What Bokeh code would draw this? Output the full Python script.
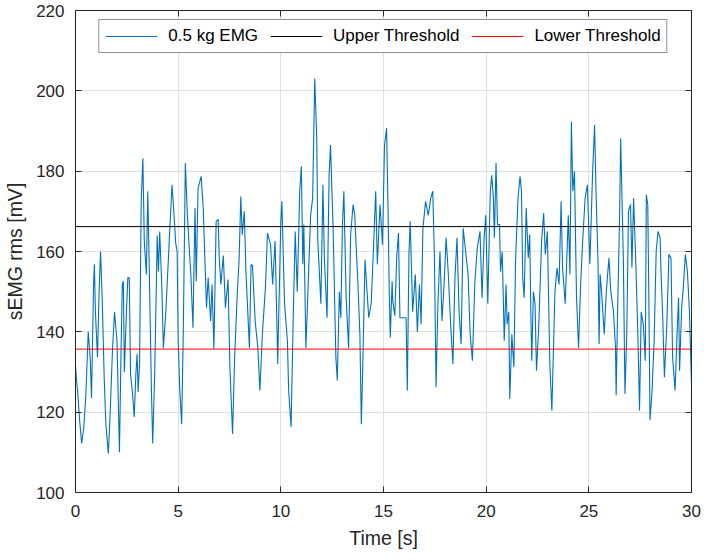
from bokeh.plotting import figure
from bokeh.models import LinearAxis, FixedTicker, Legend, LegendItem, Range1d
from bokeh.embed import file_html
from bokeh.resources import INLINE

# ---- data ----
time_s = [
    0.00, 0.05, 0.10, 0.20, 0.30, 0.40, 0.50, 0.62, 0.72, 0.78, 0.88, 0.92, 0.97, 1.07, 1.15, 1.22,
    1.30, 1.40, 1.48, 1.60, 1.68, 1.80, 1.90, 2.02, 2.14, 2.22, 2.28, 2.33, 2.38, 2.48, 2.55, 2.62,
    2.68, 2.78, 2.86, 2.94, 3.00, 3.05, 3.12, 3.20, 3.28, 3.35, 3.45, 3.52, 3.60, 3.70, 3.76, 3.86,
    3.98, 4.04, 4.10, 4.20, 4.28, 4.40, 4.55, 4.70, 4.80, 4.88, 4.95,
    5.00, 5.08, 5.17, 5.25, 5.35, 5.45, 5.55, 5.62, 5.72, 5.82, 5.88, 5.97, 6.12, 6.22, 6.38, 6.46,
    6.58, 6.65, 6.74, 6.85, 6.95, 7.00, 7.08, 7.20, 7.30, 7.43, 7.52, 7.65, 7.75, 7.87, 7.97, 8.05,
    8.12, 8.22, 8.30, 8.47, 8.55, 8.62, 8.75, 8.88, 8.98, 9.10, 9.25, 9.35, 9.50, 9.60, 9.72, 9.85,
    9.88, 10.00,
    10.05, 10.18, 10.32, 10.38, 10.50, 10.60, 10.70, 10.80, 10.92, 11.00, 11.07, 11.12, 11.22, 11.35,
    11.45, 11.55, 11.65, 11.75, 11.80, 11.85, 11.95, 12.05, 12.12, 12.25, 12.35, 12.42, 12.55, 12.68,
    12.75, 12.85, 12.92, 13.00, 13.07, 13.18, 13.30, 13.40, 13.52, 13.60, 13.68, 13.75, 13.85, 13.92,
    14.00, 14.10, 14.20, 14.28, 14.40, 14.50, 14.62, 14.70, 14.83, 14.95, 15.05, 15.15, 15.22, 15.28,
    15.33, 15.42,
    15.45, 15.55, 15.65, 15.73, 15.80, 15.90, 16.10, 16.16, 16.24, 16.30, 16.42, 16.55, 16.65, 16.75,
    16.83, 16.92, 17.05, 17.18, 17.30, 17.40, 17.48, 17.56, 17.65, 17.75, 17.85, 17.95, 18.05, 18.15,
    18.27, 18.38, 18.48, 18.58, 18.68, 18.78, 18.88, 19.00, 19.12, 19.22, 19.33, 19.45, 19.57, 19.70,
    19.80, 19.90, 19.98, 20.08,
    20.20, 20.27, 20.35, 20.40, 20.48, 20.55, 20.65, 20.70, 20.78, 20.82, 20.88, 20.97, 21.02, 21.10,
    21.15, 21.25, 21.35, 21.43, 21.55, 21.65, 21.72, 21.78, 21.85, 21.95, 22.05, 22.12, 22.18, 22.22,
    22.30, 22.38, 22.45, 22.55, 22.70, 22.80, 22.88, 22.98, 23.10, 23.20, 23.35, 23.45, 23.55, 23.65,
    23.72, 23.85, 24.00, 24.08, 24.15, 24.22, 24.30, 24.40, 24.50, 24.60, 24.70, 24.82, 24.93, 25.05,
    25.18, 25.28, 25.35, 25.45, 25.50, 25.55,
    25.62, 25.75, 25.85, 25.98, 26.07, 26.20, 26.30, 26.33, 26.40, 26.50, 26.55, 26.62, 26.68, 26.76,
    26.85, 26.93, 27.03, 27.10, 27.18, 27.27, 27.38, 27.47, 27.55, 27.65, 27.75, 27.80, 27.87, 27.92,
    27.98, 28.08, 28.18, 28.28, 28.37, 28.47, 28.52, 28.60, 28.68, 28.80, 28.90, 29.00, 29.08, 29.20,
    29.30, 29.37, 29.42, 29.52, 29.60, 29.70, 29.80, 29.90, 30.00,
]
emg_mv = [
    131.6, 128.0, 125.4, 118.0, 112.2, 116.0, 123.7, 140.0, 133.0, 123.5, 151.8, 156.8, 145.0, 133.6, 150.0, 160.0,
    148.5, 128.0, 117.0, 109.7, 118.8, 135.3, 145.0, 137.8, 110.0, 136.0, 151.8, 152.6, 130.0, 145.0, 153.5, 153.4,
    129.5, 124.5, 118.8, 129.5, 134.5, 125.0, 132.0, 172.5, 183.2, 162.6, 154.3, 175.0, 153.5, 125.0, 112.2, 130.0,
    164.0, 155.0, 165.0, 151.8, 136.0, 145.0, 161.0, 176.6, 169.0, 162.0, 160.0,
    137.8, 125.4, 117.0, 140.0, 182.0, 169.0, 160.0, 154.0, 141.0, 170.8, 152.6, 175.8, 178.7, 170.8, 146.0, 153.5,
    142.7, 151.8, 135.7, 167.5, 168.0, 158.4, 151.8, 159.0, 146.0, 153.0, 131.0, 114.6, 133.6, 148.5, 158.4, 173.7,
    164.2, 170.0, 155.0, 136.0, 156.8, 156.4, 142.7, 136.0, 125.4, 139.4, 151.0, 164.6, 161.7, 151.8, 162.6, 132.0,
    140.0, 167.5,
    172.5, 147.0, 137.8, 125.4, 116.3, 142.7, 165.0, 150.0, 175.0, 181.2, 156.8, 166.7, 136.0, 154.3,
    169.0, 173.3, 203.0, 188.0, 162.6, 157.6, 147.0, 176.6, 158.4, 143.5, 179.0, 186.5, 165.0, 133.6,
    127.9, 150.0, 143.5, 166.7, 175.0, 148.5, 136.0, 164.2, 171.7, 169.0, 160.0, 152.6, 139.4, 117.0,
    133.6, 158.0, 150.0, 143.5, 147.0, 159.3, 175.0, 156.8, 171.7, 161.7, 186.5, 190.7, 170.8, 150.0,
    138.6, 152.6,
    147.7, 144.0, 159.3, 164.6, 143.5, 143.5, 143.5, 125.4, 159.3, 167.5, 145.0, 154.3, 140.0, 151.8,
    141.9, 165.8, 172.5, 169.0, 173.3, 175.0, 158.4, 126.2, 147.0, 160.0, 142.7, 151.8, 163.4, 155.0,
    141.9, 132.0, 153.5, 163.4, 145.0, 136.9, 165.8, 160.0, 154.3, 139.4, 132.8, 152.6, 161.0, 165.0,
    148.5, 163.4, 169.0, 147.0,
    175.0, 179.0, 173.3, 163.4, 182.0, 166.7, 166.7, 155.0, 160.0, 151.8, 137.8, 151.8, 141.9, 145.0,
    123.3, 139.4, 131.2, 157.6, 173.3, 178.7, 175.0, 153.5, 148.5, 170.8, 158.4, 164.2, 143.5, 132.8,
    150.0, 147.0, 130.3, 140.0, 162.6, 169.6, 159.3, 165.0, 132.0, 120.4, 150.0, 155.9, 151.8, 172.5,
    155.9, 147.0, 169.0, 154.3, 192.3, 175.0, 180.0, 148.5, 136.0, 151.8, 162.6, 173.3, 176.6, 156.8,
    179.1, 191.5, 175.0, 156.8, 137.0, 154.3,
    150.0, 139.4, 150.0, 158.4, 150.0, 145.0, 136.0, 124.2, 145.0, 169.0, 188.2, 172.0, 158.4, 124.5,
    140.0, 170.0, 171.7, 156.0, 173.3, 160.0, 141.0, 120.4, 145.0, 141.9, 132.8, 174.1, 171.7, 150.0,
    118.0, 125.4, 137.8, 160.0, 165.0, 163.4, 154.3, 143.5, 128.7, 141.9, 159.3, 158.4, 133.6, 125.4,
    140.0, 148.5, 130.3, 146.0, 151.0, 159.3, 155.0, 145.0, 127.0,
]
upper_threshold = 166.2
lower_threshold = 135.7
x_ticks = [0, 5, 10, 15, 20, 25, 30]
y_ticks = [100, 120, 140, 160, 180, 200, 220]
series_labels = ["0.5 kg EMG", "Upper Threshold", "Lower Threshold"]

FONT = "Liberation Sans"
TXT = "#262626"

p = figure(
    frame_width=616, frame_height=482,
    x_range=Range1d(x_ticks[0], x_ticks[-1]), y_range=Range1d(y_ticks[0], y_ticks[-1]),
    output_backend="svg", toolbar_location=None,
    min_border_left=75, min_border_top=10, min_border_right=12, min_border_bottom=10,
    x_axis_label="Time [s]", y_axis_label="sEMG rms [mV]",
)
p.outline_line_color = None
p.background_fill_color = "white"
p.border_fill_color = "white"

bottom_axis = p.below[0]
left_axis = p.left[0]
top_axis = LinearAxis()
right_axis = LinearAxis()
p.add_layout(top_axis, "above")
p.add_layout(right_axis, "right")

for ax, ticks in [(bottom_axis, x_ticks), (left_axis, y_ticks), (top_axis, x_ticks), (right_axis, y_ticks)]:
    ax.ticker = FixedTicker(ticks=ticks)
    ax.minor_tick_line_color = None
    ax.major_tick_in = 6
    ax.major_tick_out = 0
    ax.axis_line_color = TXT
    ax.major_tick_line_color = TXT
    ax.major_label_text_color = TXT
    ax.major_label_text_font = FONT
    ax.major_label_text_font_size = "17px"
    ax.axis_label_text_font = FONT
    ax.axis_label_text_font_size = "19.5px"
    ax.axis_label_text_font_style = "normal"
    ax.axis_label_text_color = TXT

for ax in (top_axis, right_axis):
    ax.major_label_overrides = {t: "" for t in (x_ticks if ax is top_axis else y_ticks)}
    ax.major_label_standoff = 0

bottom_axis.major_label_standoff = 12
left_axis.major_label_standoff = 11
bottom_axis.axis_label_standoff = 7
left_axis.axis_label_standoff = 7

p.xgrid.ticker = FixedTicker(ticks=x_ticks)
p.ygrid.ticker = FixedTicker(ticks=y_ticks)
p.grid.grid_line_color = "#dfdfdf"
p.grid.grid_line_width = 1

emg = p.line(time_s, emg_mv, line_color="#0072BD", line_width=1.1)
up = p.line([x_ticks[0], x_ticks[-1]], [upper_threshold, upper_threshold], line_color="black", line_width=1)
lo = p.line([x_ticks[0], x_ticks[-1]], [lower_threshold, lower_threshold], line_color="#FF0000", line_width=1)

legend = Legend(
    items=[LegendItem(label=series_labels[0], renderers=[emg]),
           LegendItem(label=series_labels[1], renderers=[up]),
           LegendItem(label=series_labels[2], renderers=[lo])],
    orientation="horizontal", location="top_center",
    glyph_width=52, glyph_height=20, label_standoff=11, spacing=12, padding=6, margin=9,
    label_text_font=FONT, label_text_font_size="17px", label_text_color="black",
    border_line_color=TXT, border_line_width=1,
    background_fill_color="white", background_fill_alpha=1.0,
)
p.add_layout(legend, "center")

open("out.html", "w").write(file_html(p, INLINE))
